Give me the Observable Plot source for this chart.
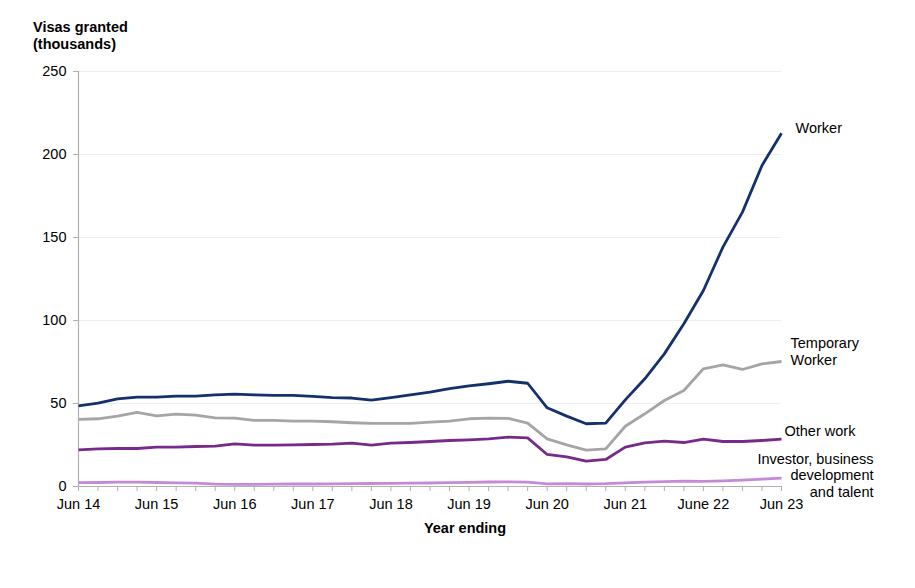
<!DOCTYPE html>
<html>
<head>
<meta charset="utf-8">
<script src="https://cdn.jsdelivr.net/npm/d3@7"></script>
<script src="https://cdn.jsdelivr.net/npm/@observablehq/plot@0.6"></script>
<style>
  html, body { margin: 0; padding: 0; background: #fff; }
  #chart svg { display: block; }
</style>
</head>
<body>
<div id="chart"></div>
<script>
// Quarterly periods, year ending Jun 2014 to Jun 2023
const quarterLabels = [
  "Jun 14","Sep 14","Dec 14","Mar 15","Jun 15","Sep 15","Dec 15","Mar 16",
  "Jun 16","Sep 16","Dec 16","Mar 17","Jun 17","Sep 17","Dec 17","Mar 18",
  "Jun 18","Sep 18","Dec 18","Mar 19","Jun 19","Sep 19","Dec 19","Mar 20",
  "Jun 20","Sep 20","Dec 20","Mar 21","Jun 21","Sep 21","Dec 21","Mar 22",
  "June 22","Sep 22","Dec 22","Mar 23","Jun 23"
];

// Visas granted (thousands)
const worker = [
  48.6, 50.2, 52.8, 53.8, 53.8, 54.4, 54.4, 55.2, 55.6, 55.2, 54.9, 54.9,
  54.3, 53.5, 53.3, 52.0, 53.5, 55.2, 56.8, 59.0, 60.6, 61.9, 63.4, 62.2,
  47.4, 42.4, 37.8, 38.2, 52.2, 64.9, 79.9, 98.0, 118.1, 144.2, 165.3, 193.4,
  212.8
];
const temporaryWorker = [
  40.4, 40.8, 42.4, 44.6, 42.6, 43.6, 43.0, 41.4, 41.2, 39.8, 39.8, 39.4,
  39.4, 39.0, 38.4, 38.0, 38.0, 38.0, 38.8, 39.4, 40.8, 41.2, 41.0, 38.2,
  28.7, 25.1, 21.9, 22.7, 36.3, 43.8, 51.8, 57.8, 70.9, 73.3, 70.5, 73.9,
  75.3
];
const otherWork = [
  22.1, 22.7, 22.9, 22.9, 23.7, 23.7, 24.1, 24.3, 25.7, 24.9, 24.9, 25.1,
  25.3, 25.5, 26.1, 24.9, 26.1, 26.5, 27.1, 27.7, 28.1, 28.7, 29.7, 29.3,
  19.3, 17.9, 15.3, 16.3, 23.7, 26.3, 27.3, 26.5, 28.5, 27.1, 27.1, 27.7,
  28.5
];
const investorTalent = [
  2.3, 2.4, 2.6, 2.6, 2.4, 2.2, 2.0, 1.4, 1.3, 1.3, 1.4, 1.5,
  1.5, 1.6, 1.7, 1.8, 1.9, 2.0, 2.1, 2.3, 2.5, 2.7, 2.8, 2.6,
  1.6, 1.7, 1.5, 1.7, 2.2, 2.6, 2.9, 3.2, 3.1, 3.4, 3.9, 4.5,
  5.1
];

const yTicks = [0, 50, 100, 150, 200, 250];

const series = [
  {name: "Worker", label: "Worker", values: worker, color: "#15316d",
   dx: 14, dy: -6, anchor: "start"},
  {name: "Temporary Worker", label: "Temporary\nWorker", values: temporaryWorker, color: "#a5a5a5",
   dx: 9, dy: -10, anchor: "start"},
  {name: "Other work", label: "Other work", values: otherWork, color: "#782a8a",
   dx: 3, dy: -9, anchor: "start"},
  {name: "Investor, business development and talent",
   label: "Investor, business\ndevelopment\nand talent", values: investorTalent, color: "#c48ad6",
   dx: 92, dy: -3, anchor: "end"}
];

const lastPoints = series.map(s => ({
  i: s.values.length - 1, v: s.values[s.values.length - 1], s
}));

const font = "Liberation Sans, Arial, Helvetica, sans-serif";
const W = 915, H = 588;

const plot = Plot.plot({
  width: W,
  height: H,
  marginLeft: 78,
  marginRight: 134,
  marginTop: 71,
  marginBottom: 102,
  style: {fontFamily: font, fontSize: "14.5px", color: "#000", background: "#fff"},
  x: {domain: [0, quarterLabels.length - 1]},
  y: {domain: [0, 250]},
  marks: [
    Plot.gridY(yTicks.filter(d => d > 0), {stroke: "#eeeeee", strokeOpacity: 1, strokeWidth: 1.2}),
    Plot.axisY({ticks: yTicks, tickSize: 5, tickPadding: 7, stroke: "#b0b0b0", label: null,
      fontSize: "14.5px"}),
    Plot.axisX({ticks: d3.range(quarterLabels.length), tickSize: 5, tickPadding: 7,
      stroke: "#b0b0b0", label: null, fontSize: "14.5px",
      tickFormat: i => (i % 4 === 0 ? quarterLabels[i] : "")}),
    Plot.ruleX([0], {stroke: "#b0b0b0", strokeWidth: 1.2}),
    Plot.ruleY([0], {stroke: "#b0b0b0", strokeWidth: 1.2}),
    ...series.slice().reverse().map(s =>
      Plot.line(s.values.map((v, i) => ({i, v})), {
        x: "i", y: "v", stroke: s.color, strokeWidth: 2.8,
        strokeLinejoin: "round", strokeLinecap: "butt"
      })
    ),
    ...lastPoints.map(p =>
      Plot.text([p], {
        x: "i", y: "v", text: d => d.s.label, textAnchor: p.s.anchor,
        dx: p.s.dx, dy: p.s.dy, lineHeight: 1.17, fill: "#000",
        fontSize: 14.5, fontFamily: font
      })
    )
  ]
});

// Axis titles
const svg = d3.select(plot);
const titles = svg.append("g")
  .attr("font-family", font).attr("font-size", 14.5).attr("font-weight", "bold")
  .attr("fill", "#000");
titles.append("text")
  .attr("x", 33).attr("y", 32).attr("text-anchor", "start")
  .text("Visas granted");
titles.append("text")
  .attr("x", 33).attr("y", 49).attr("text-anchor", "start")
  .text("(thousands)");
titles.append("text")
  .attr("x", 465).attr("y", 533).attr("text-anchor", "middle")
  .text("Year ending");

document.getElementById("chart").appendChild(plot);
</script>
</body>
</html>
